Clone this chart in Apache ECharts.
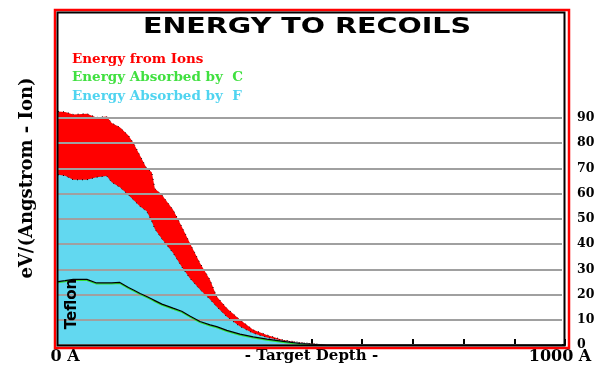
<!DOCTYPE html>
<html><head><meta charset="utf-8">
<script src="https://cdn.jsdelivr.net/npm/echarts@6/dist/echarts.min.js"></script>
<style>html,body{margin:0;padding:0;background:#fff}#c{width:595px;height:367px}</style>
</head><body><div id="c"></div>
<script>
// Target depth (Angstrom)
const depth = [0, 14, 30, 57, 76, 96, 106, 122, 139, 149, 162, 175, 185, 191, 205, 227, 244, 260, 280, 300, 313, 333, 359, 385, 412, 444, 477, 510, 530, 600, 1000];
// Energy from ions (total recoil energy)
const ionsEnergy = [92.6, 92.4, 91.4, 91.7, 90.2, 90.6, 88, 86.3, 83, 80, 75, 70, 68.5, 62, 59.5, 53.6, 47, 40.4, 32.5, 25.8, 19.2, 14.6, 10, 6, 4, 2, 1, 0.4, 0, 0, 0];
// Energy absorbed by F
const absorbedF = [67.5, 67.1, 65.5, 65.5, 66.5, 67, 64.5, 62.5, 59.5, 57.5, 54.9, 53, 49, 46, 42, 36.5, 31, 26.5, 22, 18, 15.2, 11.2, 7.3, 4.7, 3, 1.7, 0.9, 0.3, 0, 0, 0];
// Energy absorbed by C
const absorbedC = [25.1, 25.5, 26, 26, 24.6, 24.6, 24.6, 24.8, 22.8, 21.8, 20.4, 19.2, 18.2, 17.6, 16.2, 14.6, 13.4, 11.5, 9.3, 8, 7.3, 5.8, 4.3, 3.2, 2.3, 1.4, 0.6, 0.2, 0, 0, 0];
const seriesNames = ['Energy from Ions', 'Energy Absorbed by  C', 'Energy Absorbed by  F'];
const yTickMax = 90;

const chart = echarts.init(document.getElementById('c'), null, {renderer: 'canvas'});
const pairs = arr => depth.map((d, i) => [d, arr[i]]);
const serif = 'DejaVu Serif';

chart.setOption({
  animation: false,
  backgroundColor: '#fff',
  grid: [
    {left: 58, right: 30, top: 12, bottom: 22, outerBoundsMode: 'none', containLabel: false},
    {left: 58, right: 33, top: 118, bottom: 22, outerBoundsMode: 'none', containLabel: false}
  ],
  xAxis: [
    {gridIndex: 0, type: 'value', min: 0, max: 1000, interval: 100,
     axisLine: {lineStyle: {color: '#000', width: 2}},
     axisTick: {inside: true, length: 6, lineStyle: {color: '#000', width: 2}},
     splitLine: {show: false},
     axisLabel: {margin: 4, color: '#000', fontFamily: serif, fontWeight: 'bold', fontSize: 16,
       formatter: v => v === 0 ? '{a|0 A}' : (v === 1000 ? '{b|1000 A}' : ''),
       rich: {a: {fontFamily: serif, fontWeight: 'bold', fontSize: 16, color: '#000', padding: [0, 0, 0, 14]},
              b: {fontFamily: serif, fontWeight: 'bold', fontSize: 16, color: '#000', padding: [0, 10, 0, 0]}}},
     name: '- Target Depth -', nameLocation: 'middle', nameGap: 4, nameMoveOverlap: false,
     nameTextStyle: {color: '#000', fontFamily: serif, fontWeight: 'bold', fontSize: 15, verticalAlign: 'top'}},
    {gridIndex: 1, type: 'value', min: 0, max: 1000, show: false}
  ],
  yAxis: [
    {gridIndex: 0, type: 'value', min: 0, max: 132, show: false},
    {gridIndex: 1, type: 'value', min: 0, max: yTickMax, interval: 10, position: 'right', z: 3,
     axisLine: {show: false}, axisTick: {show: false},
     splitLine: {lineStyle: {color: '#a0a0a0', width: 2}},
     axisLabel: {margin: 15, color: '#000', fontFamily: serif, fontWeight: 'bold', fontSize: 12.5}}
  ],
  legend: {
    orient: 'vertical', left: 62, top: 47, itemWidth: 0, itemHeight: 0, icon: 'none',
    itemGap: 4.5, selectedMode: false,
    textStyle: {fontFamily: serif, fontWeight: 'bold', fontSize: 13.5, lineHeight: 14},
    data: [
      {name: seriesNames[0], textStyle: {color: '#ff0000'}},
      {name: seriesNames[1], textStyle: {color: '#40e040'}},
      {name: seriesNames[2], textStyle: {color: '#50d4f0'}}
    ]
  },
  series: [
    {name: seriesNames[0], type: 'line', xAxisIndex: 0, yAxisIndex: 0, data: pairs(ionsEnergy),
     symbol: 'none', z: 1, color: '#ff0000',
     lineStyle: {color: '#000', width: 1, type: [1, 4]}, areaStyle: {color: '#ff0000', opacity: 1}},
    {name: seriesNames[2], type: 'line', xAxisIndex: 0, yAxisIndex: 0, data: pairs(absorbedF),
     symbol: 'none', z: 2, color: '#62d8f0',
     lineStyle: {color: '#000', width: 1, type: [1, 4]}, areaStyle: {color: '#62d8f0', opacity: 1}},
    {name: seriesNames[1], type: 'line', xAxisIndex: 0, yAxisIndex: 0, data: pairs(absorbedC),
     symbol: 'none', z: 4, color: '#40e040',
     lineStyle: {color: '#000', width: 1.2, shadowColor: '#30e030', shadowOffsetY: 1, shadowBlur: 0}}
  ],
  graphic: [
    {type: 'rect', z: 10, silent: true, shape: {x: 55, y: 10, width: 514, height: 338},
     style: {fill: 'none', stroke: '#ff0000', lineWidth: 2.5}},
    {type: 'rect', z: 11, silent: true, shape: {x: 57.5, y: 12.5, width: 507, height: 333},
     style: {fill: 'none', stroke: '#000', lineWidth: 2}},
    {type: 'text', z: 12, x: 307, y: 28, scaleX: 1.36,
     style: {text: 'ENERGY TO RECOILS', fill: '#000', font: 'bold 21px "DejaVu Sans"', textAlign: 'center', textVerticalAlign: 'middle'}},
    {type: 'text', z: 12, x: 27, y: 178, rotation: Math.PI / 2,
     style: {text: 'eV/(Angstrom - Ion)', fill: '#000', font: 'bold 18px "DejaVu Serif"', textAlign: 'center', textVerticalAlign: 'middle'}},
    {type: 'text', z: 12, x: 72, y: 304, rotation: Math.PI / 2,
     style: {text: 'Teflon', fill: '#000', font: 'bold 15px "DejaVu Sans"', textAlign: 'center', textVerticalAlign: 'middle'}}
  ]
});
</script></body></html>
